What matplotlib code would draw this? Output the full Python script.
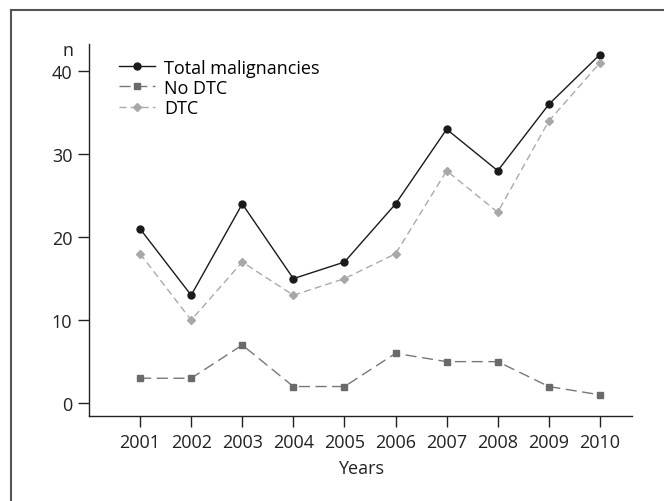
import matplotlib
matplotlib.use('Agg')
from matplotlib import pyplot as plt
from matplotlib.lines import Line2D

years = [2001, 2002, 2003, 2004, 2005, 2006, 2007, 2008, 2009, 2010]
total = [21, 13, 24, 15, 17, 24, 33, 28, 36, 42]
no_dtc = [3, 3, 7, 2, 2, 6, 5, 5, 2, 1]
dtc = [18, 10, 17, 13, 15, 18, 28, 23, 34, 41]

plt.rcParams['font.family'] = ['Open Sans', 'DejaVu Sans']
fs = 13

fig = plt.figure(figsize=(6.64, 5.02), dpi=100)
ax = fig.add_axes([0.134, 0.169, 0.818, 0.741])

ax.plot(years, total, color='#1a1a1a', lw=1.0, marker='o', ms=5, label='Total malignancies')
ax.plot(years, no_dtc, color='#777777', lw=1.0, ls=(0, (8, 4)), marker='s', ms=5,
        markerfacecolor='#6a6a6a', markeredgecolor='#6a6a6a', label='No DTC')
ax.plot(years, dtc, color='#aaaaaa', lw=1.0, ls=(0, (5, 3)), marker='D', ms=4.5,
        markerfacecolor='#a8a8a8', markeredgecolor='#a8a8a8', label='DTC')

ax.set_xlim(2000, 2010.63)
ax.set_ylim(-1.57, 43.25)
ax.set_xticks(years)
ax.set_yticks([0, 10, 20, 30, 40])
for s in ['top', 'right']:
    ax.spines[s].set_visible(False)
for s in ['left', 'bottom']:
    ax.spines[s].set_color('#222222')
    ax.spines[s].set_linewidth(1.0)
ax.tick_params(direction='out', length=8, width=1.0, color='#222222', labelsize=fs,
               labelcolor='#222222', pad=4)

ax.set_xlabel('Years', fontsize=fs, color='#222222', labelpad=6)
ax.text(-0.039, 0.985, 'n', transform=ax.transAxes, fontsize=fs, color='#222222',
        ha='center', va='center')

ax.legend(loc='upper left', bbox_to_anchor=(0.025, 1.005), frameon=False, fontsize=fs,
          handlelength=2.0, labelspacing=0.12, handletextpad=0.5)

# outer frame (top and left edges)
fig.add_artist(Line2D([11/664, 11/664], [0, 1 - 11/502], transform=fig.transFigure,
                      color='#555555', lw=1.5))
fig.add_artist(Line2D([11/664, 1], [1 - 11/502, 1 - 11/502], transform=fig.transFigure,
                      color='#555555', lw=1.5))

fig.savefig('out.png', dpi=100)
